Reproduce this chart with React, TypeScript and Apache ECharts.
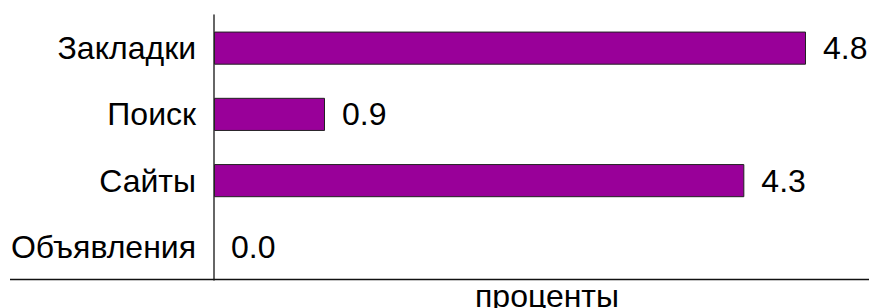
import React, { useEffect, useRef } from "react";
import * as echarts from "echarts";

const categories = ["Закладки", "Поиск", "Сайты", "Объявления"];
const values = [4.8, 0.9, 4.3, 0.0];
const axisName = "проценты";

export default function App() {
  const ref = useRef<HTMLDivElement>(null);
  useEffect(() => {
    if (!ref.current) return;
    const chart = echarts.init(ref.current, null, { renderer: "svg" });
    const font = "'Liberation Sans', Arial, sans-serif";
    chart.setOption({
      animation: false,
      backgroundColor: "#ffffff",
      textStyle: { fontFamily: font },
      grid: {
        left: 214,
        top: 15,
        width: 666,
        height: 265,
        containLabel: false,
        outerBoundsMode: "none",
      },
      xAxis: {
        type: "value",
        min: 0,
        max: 5.4,
        axisLine: { show: false },
        axisTick: { show: false },
        axisLabel: { show: false },
        splitLine: { show: false },
        name: axisName,
        nameLocation: "middle",
        nameGap: 0,
        nameTextStyle: { fontSize: 32, color: "#000", fontFamily: font, verticalAlign: "top" },
      },
      yAxis: {
        type: "category",
        inverse: true,
        data: categories,
        axisLine: { show: true, lineStyle: { color: "#333333", width: 1.5 } },
        axisTick: { show: false },
        axisLabel: { margin: 18, fontSize: 32, color: "#000", fontFamily: font },
      },
      graphic: [
        {
          type: "line",
          shape: { x1: 10, y1: 279.5, x2: 869, y2: 279.5 },
          style: { stroke: "#111111", lineWidth: 1.5 },
          z: 10,
        },
      ],
      series: [
        {
          type: "bar",
          data: values.map((v) => ({
            value: v,
            itemStyle: v === 0 ? { borderWidth: 0 } : undefined,
          })),
          barWidth: "50%",
          itemStyle: { color: "#990099", borderColor: "#222222", borderWidth: 1 },
          label: {
            show: true,
            position: "right",
            distance: 17,
            fontSize: 32,
            color: "#000",
            fontFamily: font,
            formatter: (p: any) => Number(p.value).toFixed(1),
          },
        },
      ],
    });
    return () => chart.dispose();
  }, []);
  return (
    <div
      ref={ref}
      style={{ position: "fixed", left: 0, top: 0, width: 869, height: 308 }}
    />
  );
}
